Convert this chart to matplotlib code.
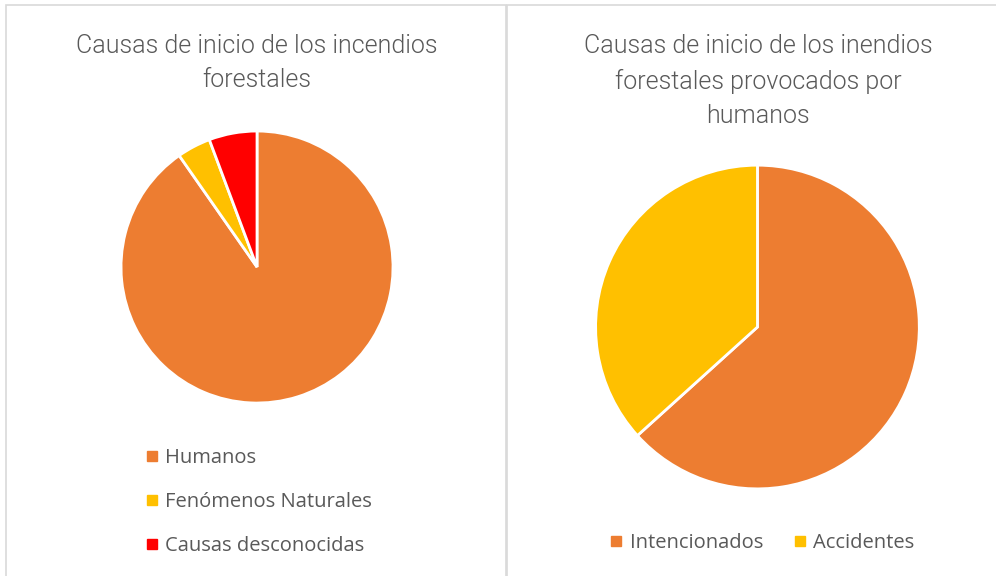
import matplotlib
matplotlib.use("Agg")
import matplotlib.pyplot as plt
from matplotlib.patches import Rectangle
from matplotlib.lines import Line2D

# datos
causas = ["Humanos", "Fenómenos Naturales", "Causas desconocidas"]
causas_pct = [90.3, 4.0, 5.7]
humanos = ["Intencionados", "Accidentes"]
humanos_pct = [63.3, 36.7]

naranja = "#ED7D31"
amarillo = "#FFC000"
rojo = "#FF0000"
gris = "#595959"

plt.rcParams["font.family"] = ["Open Sans", "DejaVu Sans"]

fig = plt.figure(figsize=(9.96, 5.76), dpi=100)

# marcos de los dos graficos
for x0, x1 in [(6, 506), (507, 1000)]:
    fig.patches.append(Rectangle((x0 / 996, -0.01), (x1 - x0) / 996, 1 - 5 / 576 + 0.01,
                                 transform=fig.transFigure, fill=False,
                                 edgecolor="#d9d9d9", linewidth=1.2))

titulo = dict(ha="center", va="center", fontsize=18, color=gris,
              family=["Roboto", "DejaVu Sans"], fontweight=300, linespacing=1.52)

# pastel izquierdo
ax1 = fig.add_axes([0.1215, 0.3003, 0.2731, 0.4722])
ax1.pie(causas_pct, colors=[naranja, amarillo, rojo], startangle=90,
        counterclock=False, wedgeprops=dict(edgecolor="white", linewidth=2))
ax1.set_xlim(-1, 1)
ax1.set_ylim(-1, 1)
ax1.set_aspect("equal")
fig.text(257 / 996, 1 - 63 / 576, "Causas de inicio de los incendios\nforestales", **titulo)

# pastel derecho
ax2 = fig.add_axes([0.598, 0.151, 0.325, 0.5625])
ax2.pie(humanos_pct, colors=[naranja, amarillo], startangle=90,
        counterclock=False, wedgeprops=dict(edgecolor="white", linewidth=2))
ax2.set_xlim(-1, 1)
ax2.set_ylim(-1, 1)
ax2.set_aspect("equal")
fig.text(758 / 996, 1 - 81 / 576,
         "Causas de inicio de los inendios\nforestales provocados por\nhumanos", **titulo)

def cuadro(c):
    return Line2D([], [], marker="s", linestyle="", markersize=7,
                  markerfacecolor=c, markeredgecolor=c)

fig.legend([cuadro(c) for c in [naranja, amarillo, rojo]], causas,
           loc="center left", bbox_to_anchor=(127 / 996, 1 - 502 / 576),
           frameon=False, fontsize=14.5, labelcolor=gris, labelspacing=1.2,
           handlelength=0.7, handletextpad=0.3)

fig.legend([cuadro(c) for c in [naranja, amarillo]], humanos,
           loc="center", bbox_to_anchor=(762 / 996, 1 - 543 / 576), ncol=2,
           frameon=False, fontsize=14.5, labelcolor=gris,
           handlelength=0.7, handletextpad=0.3, columnspacing=1.5)

fig.savefig("out.png", dpi=100)
